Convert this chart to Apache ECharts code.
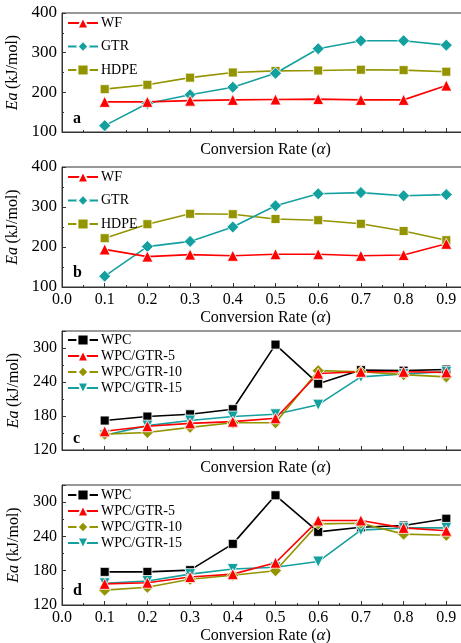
<!DOCTYPE html>
<html>
<head>
<meta charset="utf-8">
<script src="https://cdn.jsdelivr.net/npm/echarts@6/dist/echarts.min.js"></script>
<style>
  html, body { margin: 0; padding: 0; background: #fff; }
  #chart { width: 461px; height: 643px; }
</style>
</head>
<body>
<div id="chart"></div>
<script>
const alpha = [0.1, 0.2, 0.3, 0.4, 0.5, 0.6, 0.7, 0.8, 0.9];

// panel a
const wfA = [176, 176, 179, 181, 182, 183, 181, 181, 217];
const gtrA = [116, 172, 194, 213, 248, 310, 330, 330, 319];
const hdpeA = [208, 219, 237, 250, 254, 255, 257, 256, 252];
// panel b
const wfB = [194, 176, 181, 178, 182, 182, 178, 180, 208];
const gtrB = [127, 201, 214, 250, 303, 333, 336, 328, 331];
const hdpeB = [222, 257, 283, 282, 270, 267, 258, 240, 217];
// panel c
const wpcC = [172, 179, 183, 192, 306, 237, 261, 260, 262];
const gtr5C = [153, 162, 167, 170, 176, 255, 258, 258, 257];
const gtr10C = [148, 151, 160, 168, 168, 260, 258, 253, 249];
const gtr15C = [146, 163, 172, 179, 183, 200, 249, 254, 258];
// panel d
const wpcD = [178, 178, 181, 227, 312, 248, 256, 259, 271];
const gtr5D = [157, 159, 169, 174, 194, 268, 268, 255, 250];
const gtr10D = [146, 151, 165, 172, 180, 262, 263, 244, 242];
const gtr15D = [158, 162, 174, 183, 186, 196, 251, 255, 255];

const COLORS = {
  red: "#ff0000",
  teal: "#15a0a0",
  olive: "#949400",
  black: "#000000",
};

const FONT = "'Liberation Serif', 'Times New Roman', serif";

const chart = echarts.init(document.getElementById("chart"));

const pair = (arr) => alpha.map((a, i) => [a, arr[i]]);

// grid tops / heights for the four stacked panels
const panels = [
  { top: 13, height: 119, min: 100, max: 400, interval: 100, labels: false, ySize: 17 },
  { top: 167, height: 120, min: 100, max: 400, interval: 100, labels: true, ySize: 17 },
  { top: 331, height: 119, min: 120, max: 330, interval: 60, labels: false, ySize: 16 },
  { top: 485, height: 120, min: 120, max: 330, interval: 60, labels: true, ySize: 16 },
];

const grids = panels.map((p) => ({
  left: 62,
  top: p.top,
  width: 427,
  height: p.height,
  outerBoundsMode: "none",
  containLabel: false,
  show: true,
  borderColor: "#333",
  borderWidth: 1,
  backgroundColor: "transparent",
}));

const xAxes = panels.map((p, i) => ({
  type: "value",
  gridIndex: i,
  min: 0,
  max: 1.0,
  interval: 0.1,
  name: "{n|Conversion Rate (}{i|α}{n|)}",
  nameLocation: "middle",
  nameGap: p.labels ? 22 : 9,
  nameTextStyle: {
    padding: [0, 20, 0, 0],
    rich: {
      n: { fontFamily: FONT, fontSize: 16, color: "#000" },
      i: { fontFamily: FONT, fontSize: 17, fontStyle: "italic", color: "#000" },
    },
  },
  axisLine: { show: true, lineStyle: { color: "#333", width: 1 } },
  axisTick: { show: true, inside: true, length: 4, lineStyle: { color: "#333" } },
  minorTick: { show: true, splitNumber: 2, length: 2, lineStyle: { color: "#333" } },
  splitLine: { show: false },
  axisLabel: {
    show: p.labels,
    margin: 5,
    fontFamily: FONT,
    fontSize: 16,
    color: "#000",
    formatter: (v) => v.toFixed(1),
  },
}));

const yAxes = panels.map((p, i) => ({
  type: "value",
  gridIndex: i,
  min: p.min,
  max: p.max,
  interval: p.interval,
  name: "{i|Ea} {n|(kJ/mol)}",
  nameLocation: "middle",
  nameGap: 28,
  nameTextStyle: {
    rich: {
      n: { fontFamily: FONT, fontSize: 16, color: "#000" },
      i: { fontFamily: FONT, fontSize: 16, fontStyle: "italic", color: "#000" },
    },
  },
  axisLine: { show: true, lineStyle: { color: "#333", width: 1 } },
  axisTick: { show: true, inside: true, length: 4, lineStyle: { color: "#333" } },
  minorTick: { show: true, splitNumber: 2, length: 2, lineStyle: { color: "#333" } },
  splitLine: { show: false },
  axisLabel: {
    margin: 5,
    fontFamily: FONT,
    fontSize: p.ySize,
    color: "#000",
    showMaxLabel: p.max % p.interval === 0,
  },
}));

function line(name, data, idx, color, symbol, size, rotate) {
  return {
    type: "line",
    name: name,
    xAxisIndex: idx,
    yAxisIndex: idx,
    data: pair(data),
    color: color,
    symbol: symbol,
    symbolSize: size,
    symbolRotate: rotate || 0,
    showAllSymbol: true,
    lineStyle: { color: color, width: 1.6 },
    itemStyle: { color: color, borderColor: "#fff", borderWidth: 0.8 },
    emphasis: { disabled: true },
    animation: false,
  };
}

const series = [
  line("HDPE", hdpeA, 0, COLORS.olive, "rect", 9),
  line("GTR", gtrA, 0, COLORS.teal, "diamond", 12),
  line("WF", wfA, 0, COLORS.red, "triangle", 11),

  line("HDPE", hdpeB, 1, COLORS.olive, "rect", 9),
  line("GTR", gtrB, 1, COLORS.teal, "diamond", 12),
  line("WF", wfB, 1, COLORS.red, "triangle", 11),

  line("WPC", wpcC, 2, COLORS.black, "rect", 9),
  line("WPC/GTR-15", gtr15C, 2, COLORS.teal, "triangle", 11, 180),
  line("WPC/GTR-10", gtr10C, 2, COLORS.olive, "diamond", 12),
  line("WPC/GTR-5", gtr5C, 2, COLORS.red, "triangle", 11),

  line("WPC", wpcD, 3, COLORS.black, "rect", 9),
  line("WPC/GTR-15", gtr15D, 3, COLORS.teal, "triangle", 11, 180),
  line("WPC/GTR-10", gtr10D, 3, COLORS.olive, "diamond", 12),
  line("WPC/GTR-5", gtr5D, 3, COLORS.red, "triangle", 11),
];

function legend(top, names, gap) {
  return {
    orient: "vertical",
    left: 62,
    top: top,
    data: names,
    itemWidth: 30,
    itemHeight: 14,
    itemGap: gap,
    selectedMode: false,
    textStyle: { fontFamily: FONT, fontSize: 14, color: "#000", padding: [0, 0, 0, -2] },
  };
}

const legendAB = ["WF", "GTR", "HDPE"];
const legendCD = ["WPC", "WPC/GTR-5", "WPC/GTR-10", "WPC/GTR-15"];

const panelLetters = ["a", "b", "c", "d"];
const letterTops = [111, 265, 431, 583];

chart.setOption({
  backgroundColor: "#fff",
  animation: false,
  grid: grids,
  xAxis: xAxes,
  yAxis: yAxes,
  legend: [
    legend(11, legendAB, 9.5),
    legend(165, legendAB, 9.5),
    legend(328, legendCD, 2),
    legend(483, legendCD, 2),
  ],
  graphic: panelLetters.map((t, i) => ({
    type: "text",
    left: 73,
    top: letterTops[i],
    style: {
      text: t,
      fontFamily: FONT,
      fontSize: 16,
      fontWeight: "bold",
      fill: "#000",
    },
  })),
  series: series,
});
</script>
</body>
</html>
